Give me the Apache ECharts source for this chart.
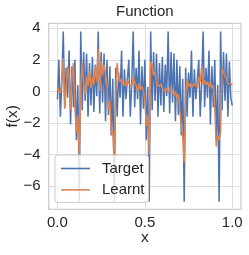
<!DOCTYPE html>
<html>
<head>
<meta charset="utf-8">
<script src="https://cdn.jsdelivr.net/npm/echarts@6/dist/echarts.min.js"></script>
<style>
html,body{margin:0;padding:0;background:#fff;}
#c{width:249px;height:255px;}
</style>
</head>
<body>
<div id="c"></div>
<script>
// sample positions x
const xs = [0, .0083, .0167, .025, .0333, .0417, .05, .0583, .0667, .075, .0833, .0917,
  .1, .1083, .1167, .125, .1333, .1417, .15, .1583, .1667, .175, .1833, .1917,
  .2, .2083, .2167, .225, .2333, .2417, .25, .2583, .2667, .275, .2833, .2917,
  .3, .3083, .3167, .325, .3333, .3417, .35, .3583, .3667, .375, .3833, .3917,
  .4, .4083, .4167, .425, .4333, .4417, .45, .4583, .4667, .475, .4833, .4917,
  .5, .5083, .5167, .525, .5333, .5417, .55, .5583, .5667, .575, .5833, .5917,
  .6, .6083, .6167, .625, .6333, .6417, .65, .6583, .6667, .675, .6833, .6917,
  .7, .7083, .7167, .725, .7333, .7417, .75, .7583, .7667, .775, .7833, .7917,
  .8, .8083, .8167, .825, .8333, .8417, .85, .8583, .8667, .875, .8833, .8917,
  .9, .9083, .9167, .925, .9333, .9417, .95, .9583, .9667, .975, .9833, .9917, 1];

const target = [
  -0.5, 2.0, -1.6, 0.6, 3.8, -1.0, 1.5, -0.4, 2.6, -2.1, 1.6, -1.0,
  2.0, -3.1, 0.4, -7.0, 3.8, -1.2, 2.5, -0.6, 2.4, -1.6, 1.8, -0.9,
  2.2, -1.3, 1.7, -0.3, 3.8, -1.4, 2.5, -0.7, 2.4, -1.9, 2.0, -1.5,
  1.6, -2.8, 0.8, -7.0, 1.5, -1.6, 1.2, -0.4, 2.6, -1.6, 1.4, -0.5,
  -0.6, 2.0, -1.6, 0.5, 3.8, -1.0, 1.5, -0.5, 2.6, -2.1, 1.6, -1.1,
  2.0, -3.1, 0.3, -7.0, 3.8, -1.2, 2.5, -0.6, 2.4, -1.6, 1.8, -0.9,
  2.2, -1.3, 1.7, -0.3, 3.8, -1.4, 2.5, -0.7, 2.4, -1.9, 2.0, -1.5,
  1.6, -2.8, 0.8, -7.0, 1.5, -1.6, 1.2, -0.4, 2.6, -1.6, 1.4, -0.5,
  -0.6, 2.0, -1.6, 0.6, 3.8, -1.0, 1.5, -0.4, 2.6, -2.1, 1.6, -1.0,
  2.0, -3.1, 0.4, -7.0, 3.8, -1.2, 2.5, -0.6, 2.4, -1.6, 1.9, -0.4, -0.9];

const learnt = [
  0.2, 0.3, -0.1, 0.6, 2.1, -1.1, 0.2, 1.6, 0.9, -1.2,
  1.0, 1.8, -1.0, -2.6, -1.5, -4.3, 0.4, 1.8, 0.5, -0.2,
  1.0, 0.3, 1.3, 0.2, 0.9, 0.4, 1.6, 0.6, 2.7, 0.0,
  1.9, 1.0, 1.7, 1.1, 0.4, -1.2, -0.6, -2.7, -2.5, -4.3,
  0.0, 1.8, 0.9, 0.6, 0.8, 0.4, 0.6, 0.3, 0.7, 0.5,
  0.6, 0.3, 0.9, 0.6, 0.4, 0.0, 0.5, 0.1, 0.3, 0.1,
  -0.6, -2.2, -1.5, -4.0, 1.9, 1.7, 1.0, 1.3, 0.5, 0.6,
  0.3, 0.5, 0.2, 0.3, 0.0, 0.2, -0.1, 0.1, 0.3, 0.0,
  -0.3, 0.0, -0.4, -0.2, -1.2, -2.2, -2.8, -4.5, -0.2, 0.8,
  0.3, 0.5, 0.2, 0.4, 0.3, 0.5, 0.2, 0.9, 0.6, 1.6,
  0.4, 0.7, 0.4, 0.6, 0.3, 0.6, 0.2, 0.4, -1.0, -3.5,
  -2.8, -3.1, -2.5, 1.5, 1.2, 1.3, 0.8, 0.5, 0.4, 0.5, 0.4];

const xTicks = [0, 0.5, 1.0];
const yTicks = [-6, -4, -2, 0, 2, 4];
const seriesNames = ['Target', 'Learnt'];

const FONT = 'Liberation Sans, Arial, sans-serif';
const TXT = '#262626';

const chart = echarts.init(document.getElementById('c'), null, {renderer: 'canvas'});
const pair = arr => xs.map((x, i) => [x, arr[i]]);

chart.setOption({
  animation: false,
  backgroundColor: '#ffffff',
  title: {
    text: 'Function', left: 144.8, top: 4.5, textAlign: 'center', padding: 0,
    textStyle: {fontFamily: FONT, fontSize: 15, fontWeight: 'normal', color: TXT}
  },
  grid: {
    left: 48.7, right: 8, top: 23.3, bottom: 45.7,
    containLabel: false, outerBoundsMode: 'none',
    show: true, borderColor: '#cccccc', borderWidth: 1.25, backgroundColor: 'transparent'
  },
  legend: {
    orient: 'vertical', left: 55, top: 155,
    padding: [6, 4, 5, 6], itemGap: 6.4, itemWidth: 29, itemHeight: 1.6, icon: 'rect',
    backgroundColor: 'rgba(255,255,255,0.8)', borderColor: '#cccccc', borderWidth: 1, borderRadius: 3,
    textStyle: {fontFamily: FONT, fontSize: 15, color: TXT, padding: [0, 0, 0, 7]},
    data: seriesNames
  },
  xAxis: {
    type: 'value', min: -0.05, max: 1.05,
    name: 'x', nameLocation: 'middle', nameGap: 20, nameMoveOverlap: false,
    nameTextStyle: {fontFamily: FONT, fontSize: 15.5, color: TXT},
    axisLine: {show: false},
    axisTick: {show: false, customValues: xTicks},
    axisLabel: {customValues: xTicks, margin: 6, fontFamily: FONT, fontSize: 15, color: TXT,
      formatter: v => v.toFixed(1)},
    splitLine: {show: true, lineStyle: {color: '#dddddd', width: 1}}
  },
  yAxis: {
    type: 'value', min: -7.48, max: 4.32,
    name: 'f(x)', nameLocation: 'middle', nameGap: 28, nameRotate: 90, nameMoveOverlap: false,
    nameTextStyle: {fontFamily: FONT, fontSize: 15.5, color: TXT},
    axisLine: {show: false},
    axisTick: {show: false, customValues: yTicks},
    axisLabel: {customValues: yTicks, margin: 8, fontFamily: FONT, fontSize: 15, color: TXT,
      formatter: v => (v < 0 ? '\u2212' : '') + Math.abs(v)},
    splitLine: {show: true, lineStyle: {color: '#dddddd', width: 1}}
  },
  series: [
    {name: seriesNames[0], type: 'line', data: pair(target), symbol: 'none',
      lineStyle: {color: '#4C72B0', width: 1.5}, itemStyle: {color: '#4C72B0'}},
    {name: seriesNames[1], type: 'line', data: pair(learnt), symbol: 'none',
      lineStyle: {color: '#DD8452', width: 1.5}, itemStyle: {color: '#DD8452'}}
  ]
});
</script>
</body>
</html>
